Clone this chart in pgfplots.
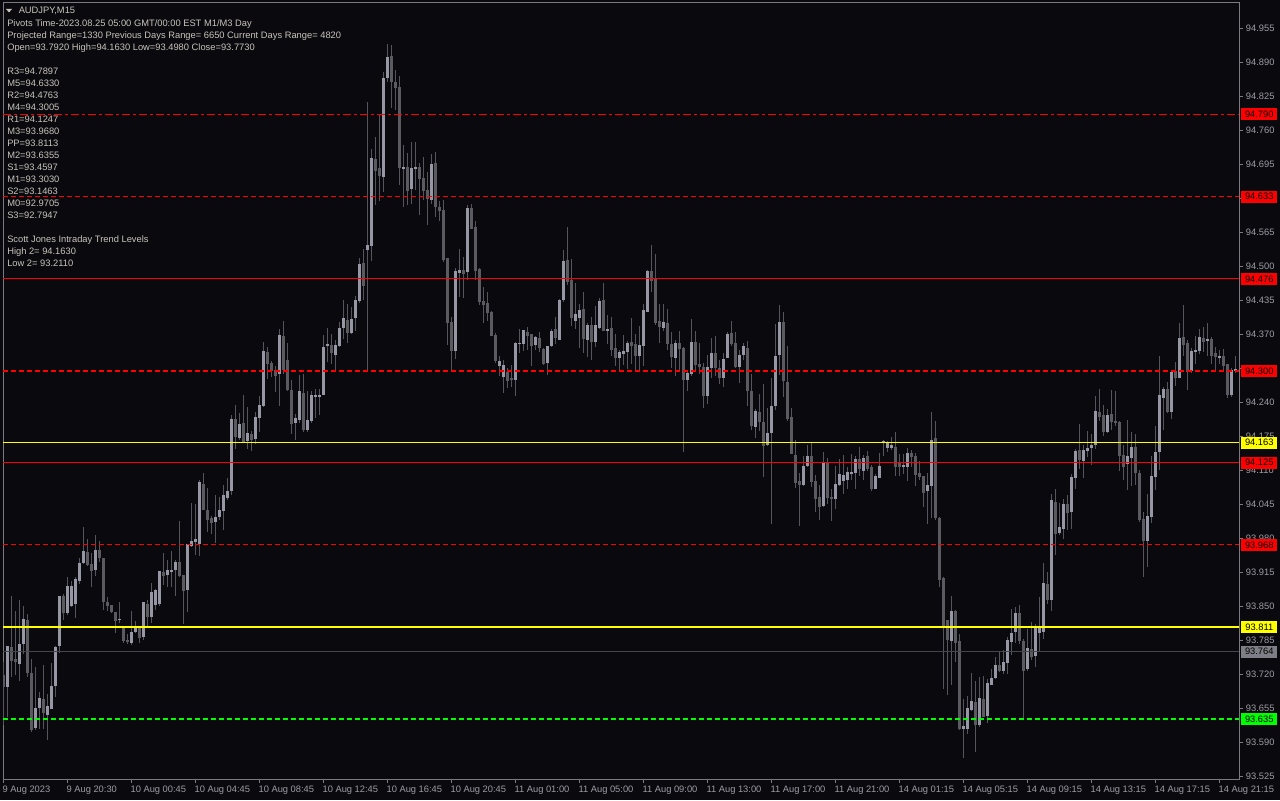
\documentclass[border=0pt]{standalone}
\usepackage{fontspec}
\setmainfont{Liberation Sans}
\usepackage{pgfplots}
\usepackage{pgfplotstable}
\pgfplotsset{compat=1.18}

\definecolor{bg}{HTML}{0A0A0E}
\definecolor{bull}{HTML}{9696A4}
\definecolor{bear}{HTML}{5A5A60}
\definecolor{wick}{HTML}{55555C}
\definecolor{frame}{HTML}{7A7A80}
\definecolor{ticktext}{HTML}{9C9CA4}
\definecolor{infotext}{HTML}{C8C4BC}
\definecolor{lvlgray}{HTML}{45454C}
\definecolor{boxgray}{HTML}{7E7E86}
\definecolor{lvlred}{HTML}{FF0000}
\definecolor{lvlyellow}{HTML}{FFFF00}
\definecolor{lvlgreen}{HTML}{00FF00}

\newcommand\tf{\fontsize{7}{8.4}\selectfont}

% AUDJPY M15 bars: index, open, high, low, close
\pgfplotstableread{
i o h l c
0 93.719 93.745 93.624 93.696
1 93.696 93.775 93.641 93.775
2 93.775 93.870 93.716 93.748
3 93.750 93.842 93.719 93.745
4 93.743 93.863 93.708 93.781
5 93.779 93.853 93.761 93.826
6 93.826 93.836 93.716 93.724
7 93.723 93.750 93.611 93.614
8 93.619 93.735 93.614 93.658
9 93.656 93.688 93.618 93.675
10 93.674 93.740 93.618 93.646
11 93.643 93.684 93.595 93.660
12 93.656 93.742 93.655 93.700
13 93.700 93.775 93.679 93.775
14 93.775 93.872 93.762 93.870
15 93.870 93.875 93.824 93.838
16 93.840 93.908 93.836 93.891
17 93.853 93.898 93.850 93.891
18 93.855 93.907 93.828 93.903
19 93.899 93.943 93.893 93.935
20 93.935 94.003 93.933 93.958
21 93.956 93.979 93.928 93.930
22 93.933 93.952 93.888 93.920
23 93.920 93.989 93.910 93.960
24 93.958 93.977 93.937 93.943
25 93.943 93.943 93.844 93.859
26 93.859 93.869 93.844 93.853
27 93.853 93.853 93.837 93.840
28 93.840 93.840 93.801 93.824
29 93.827 93.859 93.818 93.828
30 93.809 93.812 93.782 93.784
31 93.786 93.799 93.780 93.782
32 93.781 93.842 93.777 93.803
33 93.802 93.823 93.799 93.809
34 93.811 93.812 93.781 93.790
35 93.792 93.859 93.786 93.859
36 93.857 93.863 93.813 93.832
37 93.830 93.897 93.819 93.878
38 93.853 93.884 93.844 93.882
39 93.855 93.918 93.853 93.918
40 93.916 93.952 93.891 93.908
41 93.912 93.939 93.888 93.920
42 93.916 93.958 93.888 93.920
43 93.920 93.939 93.870 93.935
44 93.937 94.015 93.908 93.910
45 93.910 93.910 93.817 93.880
46 93.882 93.970 93.840 93.970
47 93.968 94.048 93.965 93.977
48 93.973 94.046 93.950 93.979
49 93.970 94.093 93.947 94.088
50 94.086 94.107 94.035 94.036
51 94.035 94.077 93.993 94.017
52 94.019 94.025 93.990 94.010
53 94.012 94.063 93.971 94.021
54 94.021 94.060 94.015 94.035
55 94.033 94.084 93.998 94.063
56 94.059 94.096 94.054 94.071
57 94.071 94.218 94.066 94.208
58 94.208 94.235 94.151 94.174
59 94.174 94.220 94.168 94.201
60 94.203 94.254 94.165 94.166
61 94.168 94.232 94.151 94.182
62 94.180 94.187 94.149 94.170
63 94.170 94.222 94.162 94.212
64 94.211 94.254 94.184 94.236
65 94.234 94.356 94.232 94.340
66 94.338 94.346 94.286 94.315
67 94.315 94.321 94.289 94.299
68 94.302 94.310 94.260 94.292
69 94.295 94.381 94.235 94.369
70 94.367 94.397 94.295 94.302
71 94.323 94.355 94.264 94.266
72 94.266 94.284 94.181 94.201
73 94.201 94.218 94.168 94.211
74 94.208 94.292 94.200 94.262
75 94.260 94.295 94.184 94.189
76 94.189 94.262 94.184 94.208
77 94.206 94.264 94.203 94.256
78 94.251 94.267 94.211 94.256
79 94.251 94.267 94.216 94.256
80 94.254 94.369 94.254 94.346
81 94.348 94.383 94.318 94.352
82 94.352 94.372 94.315 94.335
83 94.332 94.359 94.302 94.352
84 94.348 94.394 94.346 94.384
85 94.382 94.437 94.362 94.401
86 94.399 94.428 94.353 94.373
87 94.373 94.424 94.372 94.401
88 94.401 94.445 94.378 94.436
89 94.434 94.517 94.432 94.506
90 94.506 94.532 94.436 94.462
91 94.531 94.814 94.299 94.542
92 94.539 94.725 94.511 94.707
93 94.705 94.748 94.617 94.681
94 94.688 94.792 94.625 94.671
95 94.670 94.872 94.642 94.860
96 94.860 94.926 94.853 94.900
97 94.902 94.923 94.802 94.852
98 94.852 94.875 94.798 94.842
99 94.844 94.863 94.655 94.688
100 94.688 94.733 94.614 94.691
101 94.691 94.716 94.617 94.646
102 94.648 94.738 94.620 94.688
103 94.686 94.738 94.646 94.691
104 94.691 94.697 94.598 94.667
105 94.670 94.709 94.627 94.644
106 94.646 94.681 94.579 94.627
107 94.627 94.716 94.620 94.697
108 94.697 94.719 94.595 94.614
109 94.614 94.627 94.588 94.606
110 94.609 94.627 94.509 94.514
111 94.516 94.516 94.350 94.392
112 94.394 94.404 94.302 94.340
113 94.338 94.499 94.324 94.491
114 94.489 94.534 94.442 94.493
115 94.493 94.518 94.439 94.487
116 94.489 94.617 94.474 94.611
117 94.613 94.620 94.572 94.573
118 94.575 94.588 94.474 94.491
119 94.495 94.497 94.426 94.432
120 94.436 94.461 94.391 94.428
121 94.430 94.451 94.397 94.411
122 94.413 94.414 94.366 94.367
123 94.369 94.373 94.315 94.319
124 94.311 94.330 94.292 94.321
125 94.289 94.321 94.257 94.311
126 94.300 94.305 94.267 94.283
127 94.287 94.311 94.270 94.283
128 94.283 94.356 94.254 94.353
129 94.353 94.380 94.335 94.355
130 94.352 94.380 94.340 94.378
131 94.374 94.385 94.341 94.367
132 94.371 94.372 94.311 94.348
133 94.350 94.366 94.340 94.365
134 94.363 94.375 94.337 94.344
135 94.342 94.343 94.311 94.313
136 94.315 94.349 94.294 94.348
137 94.348 94.382 94.346 94.378
138 94.380 94.404 94.352 94.363
139 94.361 94.439 94.360 94.437
140 94.437 94.531 94.432 94.512
141 94.512 94.577 94.467 94.470
142 94.474 94.514 94.386 94.401
143 94.397 94.470 94.381 94.409
144 94.403 94.428 94.344 94.418
145 94.418 94.451 94.335 94.361
146 94.361 94.391 94.327 94.390
147 94.388 94.405 94.321 94.355
148 94.355 94.424 94.346 94.388
149 94.384 94.441 94.383 94.434
150 94.436 94.468 94.378 94.378
151 94.378 94.407 94.353 94.382
152 94.384 94.405 94.329 94.342
153 94.344 94.371 94.311 94.325
154 94.327 94.340 94.299 94.338
155 94.334 94.371 94.313 94.340
156 94.336 94.358 94.305 94.353
157 94.355 94.402 94.315 94.348
158 94.352 94.372 94.302 94.329
159 94.329 94.386 94.302 94.350
160 94.348 94.427 94.309 94.416
161 94.413 94.493 94.413 94.491
162 94.493 94.541 94.451 94.474
163 94.478 94.523 94.388 94.392
164 94.395 94.429 94.354 94.384
165 94.384 94.428 94.378 94.394
166 94.392 94.419 94.341 94.352
167 94.352 94.375 94.306 94.327
168 94.325 94.359 94.290 94.355
169 94.353 94.378 94.299 94.342
170 94.344 94.346 94.146 94.283
171 94.283 94.302 94.262 94.296
172 94.294 94.400 94.292 94.355
173 94.355 94.378 94.302 94.311
174 94.313 94.354 94.294 94.308
175 94.309 94.315 94.230 94.252
176 94.252 94.332 94.239 94.308
177 94.306 94.363 94.288 94.336
178 94.336 94.367 94.290 94.306
179 94.306 94.321 94.275 94.288
180 94.288 94.336 94.270 94.325
181 94.325 94.375 94.325 94.371
182 94.373 94.395 94.348 94.352
183 94.355 94.376 94.308 94.309
184 94.309 94.341 94.278 94.332
185 94.332 94.355 94.321 94.348
186 94.344 94.359 94.235 94.262
187 94.262 94.294 94.187 94.195
188 94.193 94.229 94.173 94.224
189 94.222 94.257 94.187 94.203
190 94.204 94.276 94.099 94.159
191 94.159 94.228 94.157 94.183
192 94.183 94.288 94.009 94.235
193 94.233 94.391 94.227 94.330
194 94.330 94.426 94.292 94.394
195 94.394 94.414 94.251 94.281
196 94.281 94.350 94.205 94.210
197 94.212 94.230 94.141 94.141
198 94.141 94.169 94.078 94.088
199 94.090 94.106 94.004 94.082
200 94.084 94.138 94.082 94.120
201 94.120 94.159 94.118 94.138
202 94.139 94.162 94.079 94.088
203 94.092 94.103 94.031 94.057
204 94.061 94.082 94.015 94.042
205 94.042 94.145 94.040 94.124
206 94.124 94.135 94.047 94.057
207 94.059 94.076 94.015 94.055
208 94.057 94.120 94.038 94.086
209 94.082 94.133 94.081 94.103
210 94.092 94.140 94.065 94.103
211 94.092 94.117 94.075 94.107
212 94.106 94.141 94.092 94.107
213 94.105 94.138 94.076 94.132
214 94.132 94.155 94.099 94.113
215 94.111 94.140 94.092 94.136
216 94.138 94.147 94.110 94.113
217 94.117 94.122 94.073 94.075
218 94.076 94.104 94.075 94.099
219 94.097 94.143 94.096 94.120
220 94.165 94.170 94.138 94.168
221 94.153 94.167 94.145 94.163
222 94.153 94.175 94.151 94.159
223 94.155 94.185 94.101 94.118
224 94.124 94.141 94.098 94.117
225 94.117 94.141 94.104 94.120
226 94.117 94.153 94.089 94.143
227 94.145 94.149 94.118 94.138
228 94.138 94.145 94.081 94.101
229 94.107 94.130 94.092 94.099
230 94.099 94.101 94.042 94.067
231 94.071 94.106 94.009 94.082
232 94.082 94.222 94.019 94.170
233 94.172 94.204 94.015 94.019
234 94.021 94.021 93.888 93.903
235 93.905 93.908 93.695 93.809
236 93.824 93.824 93.681 93.786
237 93.784 93.871 93.700 93.843
238 93.843 93.845 93.746 93.782
239 93.786 93.798 93.616 93.618
240 93.618 93.675 93.561 93.622
241 93.618 93.681 93.607 93.658
242 93.654 93.723 93.652 93.670
243 93.668 93.708 93.574 93.624
244 93.624 93.716 93.621 93.675
245 93.675 93.717 93.640 93.641
246 93.641 93.712 93.628 93.704
247 93.702 93.731 93.700 93.715
248 93.714 93.754 93.713 93.740
249 93.738 93.764 93.726 93.727
250 93.727 93.768 93.721 93.744
251 93.744 93.792 93.721 93.788
252 93.784 93.847 93.759 93.801
253 93.803 93.849 93.780 93.840
254 93.838 93.853 93.779 93.786
255 93.786 93.789 93.637 93.729
256 93.731 93.807 93.728 93.771
257 93.771 93.821 93.748 93.756
258 93.756 93.818 93.735 93.809
259 93.800 93.869 93.767 93.813
260 93.801 93.934 93.789 93.895
261 93.895 93.917 93.856 93.863
262 93.863 94.065 93.842 94.055
263 94.052 94.076 93.950 93.991
264 93.991 94.047 93.987 94.002
265 93.999 94.057 93.980 94.046
266 94.046 94.063 93.996 94.029
267 94.031 94.104 93.999 94.099
268 94.097 94.152 94.077 94.149
269 94.149 94.200 94.113 94.130
270 94.128 94.160 94.096 94.149
271 94.147 94.185 94.136 94.153
272 94.153 94.180 94.120 94.159
273 94.159 94.254 94.152 94.224
274 94.222 94.266 94.206 94.214
275 94.218 94.237 94.178 94.185
276 94.185 94.229 94.183 94.218
277 94.218 94.264 94.187 94.203
278 94.204 94.264 94.197 94.203
279 94.204 94.204 94.109 94.138
280 94.141 94.160 94.092 94.118
281 94.122 94.206 94.073 94.139
282 94.136 94.183 94.080 94.157
283 94.155 94.181 94.084 94.105
284 94.105 94.111 94.012 94.015
285 94.019 94.031 93.907 93.977
286 93.975 94.066 93.927 94.023
287 94.021 94.138 94.010 94.099
288 94.097 94.195 94.073 94.145
289 94.145 94.329 94.111 94.254
290 94.250 94.270 94.187 94.266
291 94.266 94.279 94.221 94.222
292 94.222 94.303 94.208 94.298
293 94.300 94.319 94.273 94.288
294 94.288 94.392 94.287 94.365
295 94.365 94.426 94.329 94.351
296 94.353 94.359 94.264 94.298
297 94.300 94.345 94.297 94.340
298 94.338 94.369 94.315 94.342
299 94.338 94.380 94.332 94.365
300 94.363 94.386 94.337 94.355
301 94.357 94.393 94.330 94.361
302 94.363 94.365 94.315 94.330
303 94.334 94.346 94.300 94.327
304 94.325 94.341 94.315 94.330
305 94.330 94.343 94.300 94.311
306 94.313 94.315 94.249 94.254
307 94.254 94.306 94.252 94.302
308 94.302 94.330 94.297 94.304
}\candles

\begin{document}
\begin{tikzpicture}
\path[use as bounding box] (0pt,0pt) rectangle (960pt,600pt);
\fill[bg] (0pt,0pt) rectangle (960pt,600pt);

\begin{axis}[
    at={(2.25pt,15.75pt)}, anchor=south west,
    scale only axis, width=927pt, height=582pt,
    xmin=-0.075, xmax=308.925,
    ymin=93.5207, ymax=95.0028,
    axis line style={draw=frame, line width=0.75pt},
    tick align=outside, major tick length=3pt,
    tick style={draw=frame, line width=0.75pt},
    xtick pos=bottom, ytick pos=right, yticklabel pos=right,
    xtick={0,16,...,304},
    xticklabels={9 Aug 2023, 9 Aug 20:30, 10 Aug 00:45, 10 Aug 04:45, 10 Aug 08:45,
        10 Aug 12:45, 10 Aug 16:45, 10 Aug 20:45, 11 Aug 01:00, 11 Aug 05:00,
        11 Aug 09:00, 11 Aug 13:00, 11 Aug 17:00, 11 Aug 21:00, 14 Aug 01:15,
        14 Aug 05:15, 14 Aug 09:15, 14 Aug 13:15, 14 Aug 17:15, 14 Aug 21:15},
    ytick={93.525,93.590,93.655,93.720,93.785,93.850,93.915,93.980,94.045,94.110,
        94.175,94.240,94.305,94.370,94.435,94.500,94.565,94.630,94.695,94.760,
        94.825,94.890,94.955},
    % 94.305 and 94.630 sit fully under the price tags, as in the terminal
    yticklabels={93.525,93.590,93.655,93.720,93.785,93.850,93.915,93.980,94.045,94.110,
        94.175,94.240,{},94.370,94.435,94.500,94.565,{},94.695,94.760,
        94.825,94.890,94.955},
    tick label style={font=\tf, text=ticktext, inner sep=0pt},
    xticklabel style={anchor=west, yshift=-5.25pt, xshift=-0.75pt},
    yticklabel style={anchor=west, xshift=2pt},
]
% wicks (low to high)
\addplot[draw=none, no markers, forget plot,
    error bars/.cd, y dir=both, y explicit, error mark=none,
    error bar style={draw=wick, line width=0.75pt}]
    table[x=i, y expr={(\thisrow{h}+\thisrow{l})/2},
          y error expr={(\thisrow{h}-\thisrow{l})/2}] {\candles};
% bull bodies (open to close)
\addplot[draw=none, no markers, forget plot,
    restrict expr to domain={\thisrow{c}-\thisrow{o}}{0:10},
    error bars/.cd, y dir=both, y explicit, error mark=none,
    error bar style={draw=bull, line width=2.25pt}]
    table[x=i, y expr={(\thisrow{o}+\thisrow{c})/2},
          y error expr={max(abs(\thisrow{c}-\thisrow{o})/2,0.001)}] {\candles};
% bear bodies
\addplot[draw=none, no markers, forget plot,
    restrict expr to domain={\thisrow{c}-\thisrow{o}}{-10:-0.0000001},
    error bars/.cd, y dir=both, y explicit, error mark=none,
    error bar style={draw=bear, line width=2.25pt}]
    table[x=i, y expr={(\thisrow{o}+\thisrow{c})/2},
          y error expr={max(abs(\thisrow{c}-\thisrow{o})/2,0.001)}] {\candles};

% pivot levels
\addplot[lvlred, line width=1pt, dash pattern=on 6pt off 2.25pt on 2.25pt off 2.25pt]
    coordinates {(-0.075,94.790) (308.925,94.790)};
\addplot[lvlred, line width=1pt, dash pattern=on 3.75pt off 2.25pt]
    coordinates {(-0.075,94.633) (308.925,94.633)};
\addplot[lvlred, line width=1pt] coordinates {(-0.075,94.476) (308.925,94.476)};
\addplot[lvlred, line width=1pt, dash pattern=on 3.75pt off 2.25pt]
    coordinates {(-0.075,94.300) (308.925,94.300)};
\addplot[lvlyellow, line width=1pt] coordinates {(-0.075,94.163) (308.925,94.163)};
\addplot[lvlred, line width=1pt] coordinates {(-0.075,94.125) (308.925,94.125)};
\addplot[lvlred, line width=1pt, dash pattern=on 3.75pt off 2.25pt]
    coordinates {(-0.075,93.968) (308.925,93.968)};
\addplot[lvlyellow, line width=1pt] coordinates {(-0.075,93.811) (308.925,93.811)};
\addplot[lvlgray, line width=1pt] coordinates {(-0.075,93.764) (308.925,93.764)};
\addplot[lvlgreen, line width=1pt, dash pattern=on 3.75pt off 2.25pt]
    coordinates {(-0.075,93.635) (308.925,93.635)};

\coordinate (b1) at (axis cs:308.925,94.790);
\coordinate (b2) at (axis cs:308.925,94.633);
\coordinate (b3) at (axis cs:308.925,94.476);
\coordinate (b4) at (axis cs:308.925,94.300);
\coordinate (b5) at (axis cs:308.925,94.163);
\coordinate (b6) at (axis cs:308.925,94.125);
\coordinate (b7) at (axis cs:308.925,93.968);
\coordinate (b8) at (axis cs:308.925,93.811);
\coordinate (b9) at (axis cs:308.925,93.764);
\coordinate (b10) at (axis cs:308.925,93.635);
\end{axis}

% price tags on the right scale
\tikzset{tag/.style={font=\tf, text=black, inner sep=0pt, anchor=west,
    minimum width=27pt, minimum height=9pt}}
\node[tag, fill=lvlred] at ([xshift=1.5pt]b1) {94.790};
\node[tag, fill=lvlred] at ([xshift=1.5pt]b2) {94.633};
\node[tag, fill=lvlred] at ([xshift=1.5pt]b3) {94.476};
\node[tag, fill=lvlred] at ([xshift=1.5pt]b4) {94.300};
\node[tag, fill=lvlyellow] at ([xshift=1.5pt]b5) {94.163};
\node[tag, fill=lvlred] at ([xshift=1.5pt]b6) {94.125};
\node[tag, fill=lvlred] at ([xshift=1.5pt]b7) {93.968};
\node[tag, fill=lvlyellow] at ([xshift=1.5pt]b8) {93.811};
\node[tag, fill=boxgray] at ([xshift=1.5pt]b9) {93.764};
\node[tag, fill=lvlgreen] at ([xshift=1.5pt]b10) {93.635};

% indicator comment block (pixel grid: 1px = 0.75pt, y from bottom)
\begin{scope}[x=0.75pt, y=0.75pt]
\fill[infotext] (6,791) -- (12,791) -- (9,787.5) -- cycle;
\tikzset{info/.style={font=\tf, text=infotext, inner sep=0pt, anchor=west,
    text height=5.2pt, text depth=1.4pt}}
\node[info] at (18.5,789.3) {AUDJPY,M15};
\node[info] at (7,776) {Pivots Time-2023.08.25 05:00 GMT/00:00 EST M1/M3 Day};
\node[info] at (7,764) {Projected Range=1330 Previous Days Range= 6650 Current Days Range= 4820};
\node[info] at (7,752) {Open=93.7920 High=94.1630 Low=93.4980 Close=93.7730};
\node[info] at (7,728) {R3=94.7897};
\node[info] at (7,716) {M5=94.6330};
\node[info] at (7,704) {R2=94.4763};
\node[info] at (7,692) {M4=94.3005};
\node[info] at (7,680) {R1=94.1247};
\node[info] at (7,668) {M3=93.9680};
\node[info] at (7,656) {PP=93.8113};
\node[info] at (7,644) {M2=93.6355};
\node[info] at (7,632) {S1=93.4597};
\node[info] at (7,620) {M1=93.3030};
\node[info] at (7,608) {S2=93.1463};
\node[info] at (7,596) {M0=92.9705};
\node[info] at (7,584) {S3=92.7947};
\node[info] at (7,560) {Scott Jones Intraday Trend Levels};
\node[info] at (7,548) {High 2= 94.1630};
\node[info] at (7,536) {Low 2= 93.2110};
\end{scope}
\end{tikzpicture}
\end{document}
